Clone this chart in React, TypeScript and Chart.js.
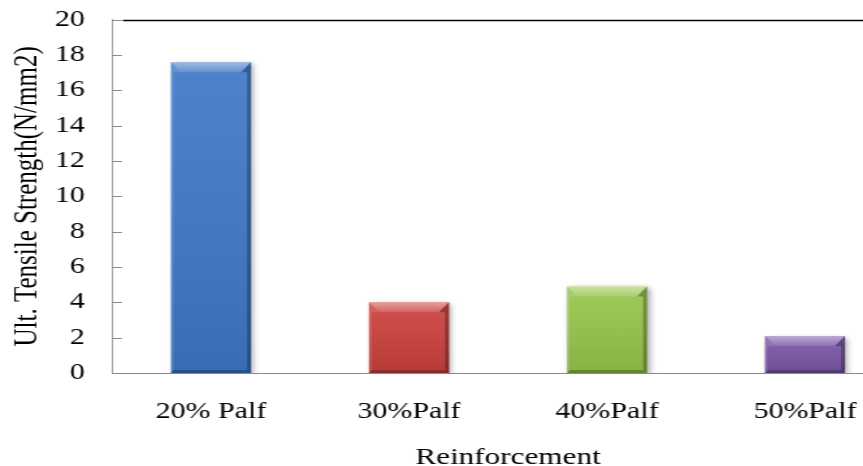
import { useEffect, useRef } from "react";
import { Chart, registerables } from "chart.js";

Chart.register(...registerables);

// ---- data ----
const categories = ["20% Palf", "30%Palf", "40%Palf", "50%Palf"];
const strengthValues = [17.6, 4.0, 4.9, 2.1];
const barColors = ["#3f79c8", "#cc413d", "#97c64c", "#7a57a6"];
const yMin = 0;
const yMax = 20;
const yStep = 2;
const xTitle = "Reinforcement";
const yTitle = "Ult. Tensile Strength(N/mm2)";

// ---- layout ----
const STRETCH = 1.3; // horizontal scale applied to the whole canvas
const SHIFT_Y = 15; // canvas sits slightly above the page top
const W = 710;
const H = 495;
const PLOT_BOTTOM = 373 + SHIFT_Y;
const serif = "'Liberation Serif', 'Times New Roman', serif";
const axisGray = "#8a8a8a";

// Office-style bevel and soft shadow on each bar
const bevelPlugin = {
  id: "bevel",
  beforeDatasetsDraw(chart: any) {
    const ctx = chart.ctx;
    ctx.save();
    ctx.shadowColor = "rgba(0,0,0,0.35)";
    ctx.shadowBlur = 5;
    ctx.shadowOffsetX = 2;
    ctx.shadowOffsetY = 2;
  },
  afterDatasetsDraw(chart: any) {
    const ctx = chart.ctx;
    ctx.restore();
    const meta = chart.getDatasetMeta(0);
    meta.data.forEach((el: any) => {
      const p = el.getProps(["x", "y", "base", "width"], true);
      const l = p.x - p.width / 2;
      const r = p.x + p.width / 2;
      const t = p.y;
      const b = p.base;
      const sv = 10;
      const sh = sv / STRETCH;
      const poly = (pts: number[][], fill: any) => {
        ctx.beginPath();
        ctx.moveTo(pts[0][0], pts[0][1]);
        for (let i = 1; i < pts.length; i++) ctx.lineTo(pts[i][0], pts[i][1]);
        ctx.closePath();
        ctx.fillStyle = fill;
        ctx.fill();
      };
      ctx.save();
      // body shading, lighter at the top
      const body = ctx.createLinearGradient(0, t, 0, b);
      body.addColorStop(0, "rgba(255,255,255,0.08)");
      body.addColorStop(1, "rgba(0,0,0,0.10)");
      ctx.fillStyle = body;
      ctx.fillRect(l, t, r - l, b - t);
      // top facet
      const topG = ctx.createLinearGradient(0, t, 0, t + sv);
      topG.addColorStop(0, "rgba(255,255,255,0.45)");
      topG.addColorStop(1, "rgba(255,255,255,0.12)");
      poly([[l, t], [r, t], [r - sh, t + sv], [l + sh, t + sv]], topG);
      // left facet
      poly([[l, t], [l + sh, t + sv], [l + 2, t + sv], [l + 2, b - 2], [l, b]], "rgba(255,255,255,0.12)");
      // right facet
      poly([[r, t], [r, b], [r - 3, b - 3], [r - 3, t + sv], [r - sh, t + sv]], "rgba(0,0,0,0.28)");
      // bottom facet
      poly([[l, b], [r, b], [r - 3, b - 3], [l + 2, b - 3]], "rgba(0,0,0,0.25)");
      ctx.restore();
    });
  },
};

// inward tick marks on the value axis and the dark line along the top value
const axisMarksPlugin = {
  id: "axisMarks",
  afterDraw(chart: any) {
    const { ctx, chartArea, scales } = chart;
    const y = scales.y;
    ctx.save();
    ctx.strokeStyle = axisGray;
    ctx.lineWidth = 1;
    y.ticks.forEach((t: any) => {
      const py = Math.round(y.getPixelForValue(t.value)) + 0.5;
      ctx.beginPath();
      ctx.moveTo(chartArea.left, py);
      ctx.lineTo(chartArea.left + 10 / STRETCH, py);
      ctx.stroke();
    });
    const top = Math.round(y.getPixelForValue(yMax)) + 0.5;
    ctx.strokeStyle = "#000";
    ctx.lineWidth = 1.5;
    ctx.beginPath();
    ctx.moveTo(chartArea.left + 11 / STRETCH, top);
    ctx.lineTo(chartArea.right, top);
    ctx.stroke();
    ctx.restore();
  },
};

export default function App() {
  const canvasRef = useRef<HTMLCanvasElement | null>(null);

  useEffect(() => {
    if (!canvasRef.current) return;
    const chart = new Chart(canvasRef.current, {
      type: "bar",
      data: {
        labels: categories,
        datasets: [
          {
            data: strengthValues,
            backgroundColor: barColors,
            borderWidth: 0,
            categoryPercentage: 1,
            barPercentage: 0.404,
          },
        ],
      },
      plugins: [bevelPlugin, axisMarksPlugin],
      options: {
        responsive: false,
        animation: false,
        layout: { padding: { top: 0, right: 14.6, left: 0, bottom: 0 } },
        plugins: {
          legend: { display: false },
          tooltip: { enabled: false },
        },
        scales: {
          x: {
            grid: { display: false, drawTicks: false },
            border: { display: true, color: axisGray, width: 1 },
            ticks: {
              color: "#000",
              font: { family: serif, size: 23 },
              padding: 25,
              maxRotation: 0,
              autoSkip: false,
            },
            title: {
              display: true,
              text: xTitle,
              color: "#000",
              font: { family: serif, size: 24 },
              padding: { top: 0, bottom: 7.5 },
            },
            afterFit(scale: any) {
              scale.height = H - PLOT_BOTTOM;
            },
          },
          y: {
            min: yMin,
            max: yMax,
            grid: { display: false, drawTicks: false },
            border: { display: true, color: axisGray, width: 1 },
            ticks: {
              stepSize: yStep,
              color: "#000",
              font: { family: serif, size: 23 },
              padding: 21,
            },
            title: {
              display: true,
              text: yTitle,
              color: "#000",
              font: { family: serif, size: 25 },
              padding: { top: 6, bottom: 0 },
            },
            afterFit(scale: any) {
              scale.width = 112 / STRETCH;
            },
          },
        },
      },
    });
    return () => chart.destroy();
  }, []);

  return (
    <div
      style={{
        position: "fixed",
        left: 0,
        top: -SHIFT_Y,
        width: W,
        height: H,
        transform: `scaleX(${STRETCH})`,
        transformOrigin: "0 0",
        background: "#fff",
      }}
    >
      <canvas ref={canvasRef} width={W} height={H} style={{ width: W, height: H, display: "block" }} />
    </div>
  );
}
